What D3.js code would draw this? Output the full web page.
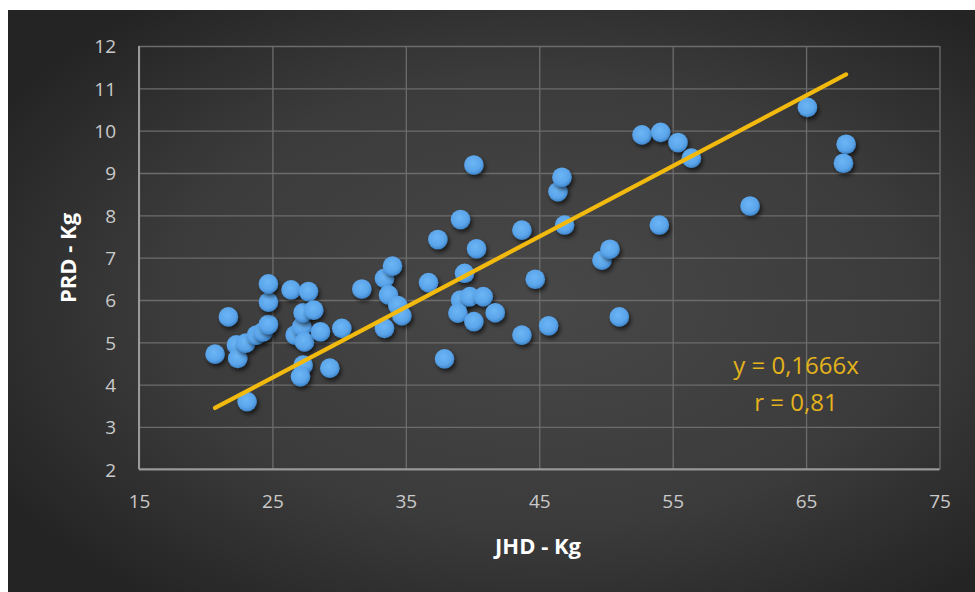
<!DOCTYPE html>
<html>
<head>
<meta charset="utf-8">
<script src="https://cdn.jsdelivr.net/npm/d3@7"></script>
<style>
  html, body { margin: 0; padding: 0; background: #ffffff; }
  svg { display: block; }
</style>
</head>
<body>
<svg id="chart" width="975" height="592"></svg>
<script>
// ---- data ----
const jhd = [20.7, 21.7, 22.3, 22.4, 23.0, 23.1, 23.8, 24.3, 24.7, 24.7, 24.7,
  26.4, 26.7, 27.2, 27.4, 27.3, 27.7, 28.1, 28.6, 27.3, 27.1, 29.3, 30.2, 31.7,
  33.4, 34.0, 33.7, 34.4, 34.7, 33.4, 36.7, 37.4, 37.9, 39.1, 39.4, 39.1, 39.8,
  40.8, 38.9, 40.1, 41.7, 40.1, 40.3, 43.7, 43.7, 44.7, 45.7, 46.4, 46.7, 46.9,
  49.7, 50.3, 51.0, 52.7, 54.1, 55.4, 56.4, 54.0, 60.8, 65.1, 68.0, 67.8];
const prd = [4.72, 5.60, 4.94, 4.62, 4.98, 3.60, 5.17, 5.25, 5.42, 5.95, 6.38,
  6.24, 5.17, 5.37, 5.01, 5.70, 6.20, 5.76, 5.25, 4.46, 4.19, 4.39, 5.33, 6.26,
  6.51, 6.80, 6.12, 5.87, 5.63, 5.33, 6.41, 7.43, 4.61, 7.90, 6.63, 6.00, 6.08,
  6.08, 5.69, 5.49, 5.70, 9.19, 7.21, 7.65, 5.17, 6.49, 5.39, 8.56, 8.90, 7.77,
  6.94, 7.20, 5.60, 9.90, 9.96, 9.72, 9.35, 7.77, 8.22, 10.55, 9.68, 9.23];
const xTicks = [15, 25, 35, 45, 55, 65, 75];
const yTicks = [2, 3, 4, 5, 6, 7, 8, 9, 10, 11, 12];
const slope = 0.1666;
const annotation = ["y = 0,1666x", "r = 0,81"];
const xTitle = "JHD - Kg";
const yTitle = "PRD - Kg";

// ---- layout ----
const svg = d3.select("#chart");
const pL = 139, pR = 939.5, pT = 46, pB = 469.3;
const x = d3.scaleLinear().domain([15, 75]).range([pL, pR]);
const y = d3.scaleLinear().domain([2, 12]).range([pB, pT]);
const font = "'Open Sans', 'DejaVu Sans', sans-serif";

const defs = svg.append("defs");
const bg = defs.append("radialGradient").attr("id", "bg")
  .attr("cx", "55%").attr("cy", "50%").attr("r", "65%");
bg.append("stop").attr("offset", "0%").attr("stop-color", "#484848");
bg.append("stop").attr("offset", "60%").attr("stop-color", "#3b3b3b");
bg.append("stop").attr("offset", "100%").attr("stop-color", "#242424");

const dot = defs.append("radialGradient").attr("id", "dot")
  .attr("cx", "45%").attr("cy", "40%").attr("r", "60%");
dot.append("stop").attr("offset", "0%").attr("stop-color", "#6cb6f5");
dot.append("stop").attr("offset", "70%").attr("stop-color", "#5aa4ea");
dot.append("stop").attr("offset", "100%").attr("stop-color", "#3f86cc");

const sh = defs.append("filter").attr("id", "shadow")
  .attr("x", "-50%").attr("y", "-50%").attr("width", "200%").attr("height", "200%");
sh.append("feDropShadow").attr("dx", 2).attr("dy", 3).attr("stdDeviation", 2)
  .attr("flood-color", "#000").attr("flood-opacity", 0.6);

// background panel
svg.append("rect").attr("x", 8).attr("y", 10).attr("width", 967).attr("height", 582)
  .attr("fill", "url(#bg)");

// gridlines
const gx = svg.append("g").attr("transform", `translate(0,${pB})`)
  .call(d3.axisBottom(x).tickValues(xTicks).tickSize(-(pB - pT)).tickFormat(""));
gx.select(".domain").remove();
gx.selectAll("line").attr("stroke", "#6c6c6c").attr("stroke-width", 1.3);

const gy = svg.append("g").attr("transform", `translate(${pL},0)`)
  .call(d3.axisLeft(y).tickValues(yTicks).tickSize(-(pR - pL)).tickFormat(""));
gy.select(".domain").remove();
gy.selectAll("line").attr("stroke", "#6c6c6c").attr("stroke-width", 1.3);

// axis lines
svg.append("line").attr("x1", pL).attr("x2", pL).attr("y1", pT).attr("y2", pB)
  .attr("stroke", "#9a9a9a").attr("stroke-width", 2);
svg.append("line").attr("x1", pL).attr("x2", pR).attr("y1", pB).attr("y2", pB)
  .attr("stroke", "#9a9a9a").attr("stroke-width", 2);

// tick labels
const ax = svg.append("g").attr("transform", `translate(0,${pB})`)
  .call(d3.axisBottom(x).tickValues(xTicks).tickSize(0).tickFormat(d3.format("d")));
ax.select(".domain").remove();
ax.selectAll("text").attr("y", 39).attr("dy", 0)
  .attr("fill", "#cacaca").style("font-family", font).style("font-size", "19px");

const ay = svg.append("g").attr("transform", `translate(${pL},0)`)
  .call(d3.axisLeft(y).tickValues(yTicks).tickSize(0).tickFormat(d3.format("d")));
ay.select(".domain").remove();
ay.selectAll("text").attr("x", -23).attr("dy", "0.36em")
  .attr("fill", "#cacaca").style("font-family", font).style("font-size", "19px");

// points
const pts = jhd.map((v, i) => ({ x: v, y: prd[i] }));
svg.append("g").selectAll("circle").data(pts).join("circle")
  .attr("cx", d => x(d.x)).attr("cy", d => y(d.y)).attr("r", 9.8)
  .attr("fill", "url(#dot)").attr("filter", "url(#shadow)");

// trend line
const xs = d3.extent(jhd);
svg.append("line")
  .attr("x1", x(xs[0])).attr("y1", y(slope * xs[0]))
  .attr("x2", x(xs[1])).attr("y2", y(slope * xs[1]))
  .attr("stroke", "#f2b90f").attr("stroke-width", 4.2).attr("stroke-linecap", "round");

// annotation
svg.append("g").selectAll("text").data(annotation).join("text")
  .attr("x", 796).attr("y", (d, i) => 374 + i * 37)
  .attr("text-anchor", "middle").attr("fill", "#e3b21c")
  .style("font-family", font).style("font-size", "24px")
  .text(d => d);

// axis titles
svg.append("text").attr("x", 538).attr("y", 554).attr("text-anchor", "middle")
  .attr("fill", "#ffffff").style("font-family", font).style("font-size", "22px")
  .style("font-weight", "bold").text(xTitle);
svg.append("text").attr("transform", "translate(76,258) rotate(-90)")
  .attr("text-anchor", "middle").attr("fill", "#ffffff")
  .style("font-family", font).style("font-size", "22px").style("font-weight", "bold")
  .text(yTitle);
</script>
</body>
</html>
